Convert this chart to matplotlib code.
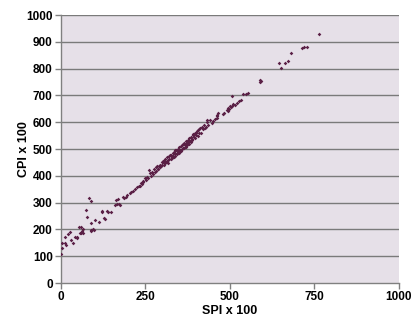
import matplotlib
matplotlib.use('Agg')
import matplotlib.pyplot as plt

# Puntos (SPI x 100, CPI x 100)
spi_bajo = [1, 3, 3, 11, 16, 13, 21, 26, 31, 36, 42, 47, 48, 52, 58, 60, 55, 62, 65, 66,
            74, 78, 82, 90, 101, 90, 112, 88, 90, 95, 98, 129, 122, 139, 149, 120, 135,
            127, 159, 167, 172, 163, 174, 169, 183, 193, 186, 196, 205, 214, 208, 220,
            226, 230]
cpi_bajo = [107, 129, 148, 148, 142, 173, 183, 191, 160, 148, 173, 167, 173, 210, 208,
            188, 185, 194, 185, 200, 272, 245, 317, 307, 235, 225, 226, 194, 198, 200,
            196, 239, 268, 264, 264, 266, 269, 241, 290, 294, 295, 310, 292, 312, 322,
            322, 318, 330, 336, 344, 340, 352, 358, 362]

spi_medio = [234, 237, 239, 242, 244, 248, 251, 253, 258, 260, 263, 266, 268, 272, 275,
             278, 280, 282, 285, 287, 288, 291, 293, 294, 297, 299, 300, 302, 304, 305,
             308, 309, 310, 313, 314, 315, 318, 319, 320, 322, 324, 325, 327, 329, 330,
             332, 333, 335, 337, 338, 340, 342, 343, 345, 347, 349, 350, 352, 354, 355,
             357, 359, 360, 362, 364, 365, 367, 369, 370, 372, 374, 375, 377, 379, 380,
             382, 384, 385, 388, 389, 390, 393, 395, 397, 398, 400, 403, 404, 406, 409,
             412, 414, 416, 420, 424, 428, 431, 433, 436, 441, 446, 449, 455, 461, 462,
             463, 465, 338, 352, 371, 392, 318, 302, 409, 425]
cpi_medio = [362, 374, 370, 381, 376, 390, 384, 395, 392, 422, 409, 399, 416, 408, 426,
             414, 433, 419, 435, 427, 424, 438, 432, 441, 436, 451, 439, 455, 442, 457,
             447, 463, 451, 452, 469, 456, 459, 474, 462, 476, 461, 478, 470, 466, 484,
             474, 470, 490, 480, 475, 495, 485, 481, 500, 491, 486, 506, 497, 492, 511,
             500, 516, 503, 520, 505, 524, 514, 509, 529, 519, 515, 534, 525, 520, 540,
             531, 526, 546, 537, 532, 552, 543, 559, 541, 561, 552, 567, 550, 570, 561,
             577, 560, 581, 574, 590, 583, 608, 599, 591, 608, 598, 603, 612, 623, 615,
             627, 633, 496, 492, 517, 556, 448, 450, 575, 578]

spi_alto = [480, 482, 490, 493, 495, 498, 500, 503, 505, 507, 510, 515, 520, 526, 533,
            539, 546, 552, 588, 590, 592, 646, 650, 663, 672, 680, 714, 720, 727, 764]
cpi_alto = [631, 636, 645, 641, 652, 649, 660, 655, 662, 698, 668, 666, 673, 678, 683,
            704, 705, 708, 757, 750, 753, 820, 803, 820, 829, 857, 876, 879, 879, 928]

spi = spi_bajo + spi_medio + spi_alto
cpi = cpi_bajo + cpi_medio + cpi_alto

plt.rcParams['font.family'] = ['Liberation Sans', 'DejaVu Sans']

fig = plt.figure(figsize=(4.14, 3.22), dpi=100)
ax = fig.add_axes([61 / 414, 39 / 322, 338 / 414, 268 / 322])
ax.set_facecolor('#e6e0e8')

ax.scatter(spi, cpi, marker='D', s=3.5, color='#5a1f45', linewidths=0, zorder=3)

ax.set_xlim(0, 1000)
ax.set_ylim(0, 1000)
ax.set_xticks([0, 250, 500, 750, 1000])
ax.set_yticks(range(0, 1001, 100))
for v in range(100, 1001, 100):
    ax.axhline(v, color='#7a7a7a', linewidth=1, zorder=1)

for lado in ['top', 'right']:
    ax.spines[lado].set_visible(False)
for lado in ['left', 'bottom']:
    ax.spines[lado].set_color('#808080')
    ax.spines[lado].set_linewidth(1)

ax.tick_params(axis='both', direction='out', length=4, width=1, color='#808080',
               labelsize=8.5, pad=2)
for etiqueta in ax.get_xticklabels() + ax.get_yticklabels():
    etiqueta.set_fontweight('bold')

ax.set_xlabel('SPI x 100', fontsize=9, fontweight='bold', labelpad=1)
ax.set_ylabel('CPI x 100', fontsize=9, fontweight='bold', labelpad=-3)

fig.savefig('out.png', dpi=100)
